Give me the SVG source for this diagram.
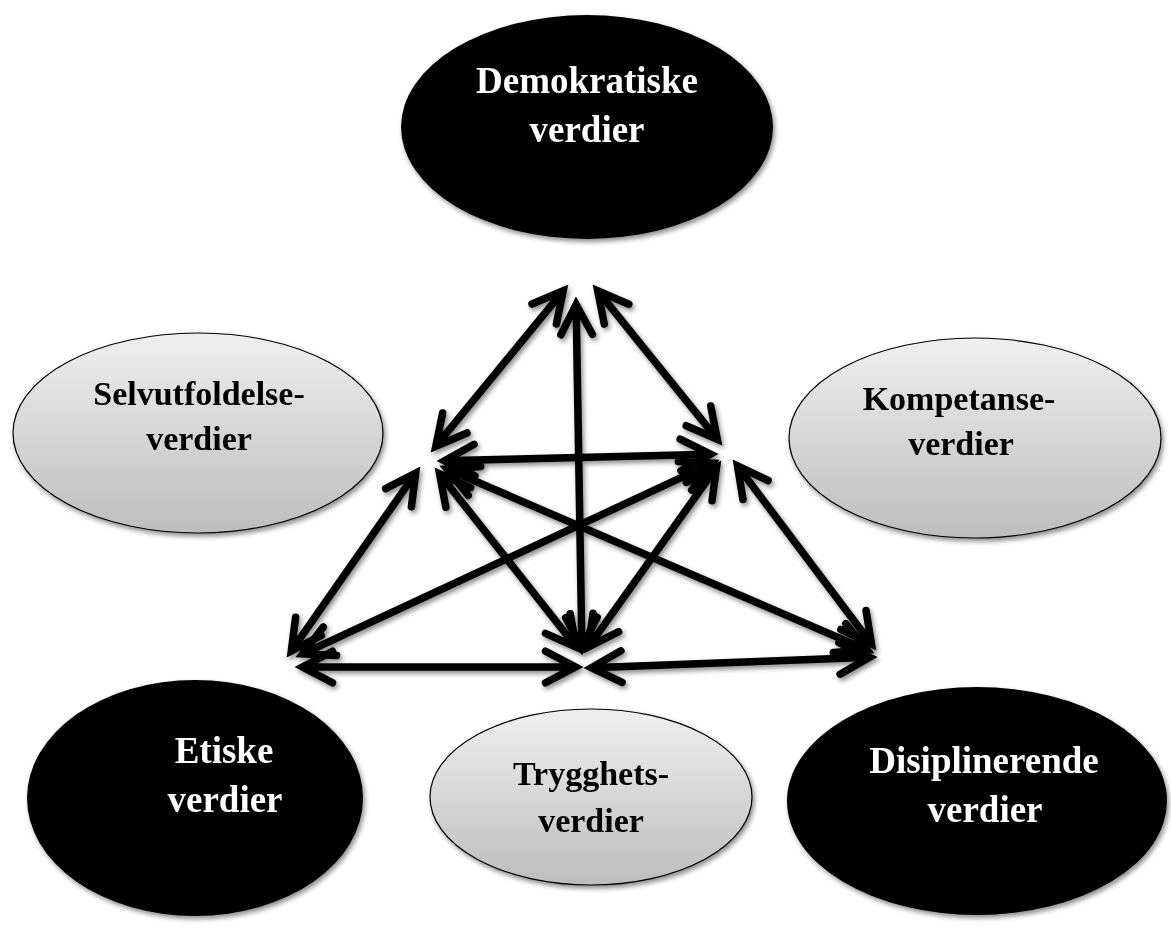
<svg xmlns="http://www.w3.org/2000/svg" width="1171" height="936" viewBox="0 0 1171 936">
<style>
.lbl{font-family:"Liberation Serif","Times New Roman",serif;font-weight:bold;text-anchor:middle}
.w{fill:#fff;font-size:37px}
.k{fill:#000;font-size:34px}
.dark{fill:#000}
.light{fill:url(#g);stroke:#000;stroke-width:1.2}
.arr{stroke:#000;stroke-width:7.5;fill:none;marker-start:url(#ah);marker-end:url(#ah)}
</style>
<defs>
<linearGradient id="g" x1="0" y1="0" x2="0" y2="1">
<stop offset="0" stop-color="#efefef"/>
<stop offset="1" stop-color="#bdbdbd"/>
</linearGradient>
<filter id="sh" x="-20%" y="-20%" width="140%" height="140%">
<feDropShadow dx="2" dy="3" stdDeviation="2.5" flood-color="#000" flood-opacity="0.45"/>
</filter>
<marker id="ah" viewBox="-6 -3 7.5 6" refX="0" refY="0" markerWidth="7.5" markerHeight="6" orient="auto-start-reverse" markerUnits="strokeWidth" overflow="visible">
<path d="M-4,-2.1 L0,0 L-4,2.1" fill="none" stroke="#000" stroke-width="1" stroke-linejoin="miter" stroke-miterlimit="4" stroke-linecap="round"/>
</marker>
</defs>
<rect width="1171" height="936" fill="#fff"/>

<g id="demokratiske" filter="url(#sh)">
<ellipse class="dark" cx="587" cy="127" rx="186" ry="112"/>
<text class="lbl w" x="587" y="93">Demokratiske</text>
<text class="lbl w" x="587" y="142">verdier</text>
</g>

<g id="selvutfoldelse" filter="url(#sh)">
<ellipse class="light" cx="198" cy="433" rx="185" ry="100"/>
<text class="lbl k" x="199" y="405">Selvutfoldelse-</text>
<text class="lbl k" x="199" y="450">verdier</text>
</g>

<g id="kompetanse" filter="url(#sh)">
<ellipse class="light" cx="975" cy="438" rx="186" ry="100"/>
<text class="lbl k" x="959" y="410">Kompetanse-</text>
<text class="lbl k" x="961" y="455">verdier</text>
</g>

<g id="etiske" filter="url(#sh)">
<ellipse class="dark" cx="195" cy="798" rx="168" ry="118"/>
<text class="lbl w" x="224" y="763">Etiske</text>
<text class="lbl w" x="225" y="812">verdier</text>
</g>

<g id="trygghets" filter="url(#sh)">
<ellipse class="light" cx="591" cy="797" rx="161" ry="88"/>
<text class="lbl k" x="591" y="785">Trygghets-</text>
<text class="lbl k" x="591" y="832">verdier</text>
</g>

<g id="disiplinerende" filter="url(#sh)">
<ellipse class="dark" cx="977" cy="801" rx="190" ry="114"/>
<text class="lbl w" x="984" y="773">Disiplinerende</text>
<text class="lbl w" x="985" y="822">verdier</text>
</g>

<g id="connectors" filter="url(#sh)">
<line class="arr" x1="563.2" y1="290.8" x2="435.8" y2="446.2"/>
<line class="arr" x1="597.7" y1="290.8" x2="717.3" y2="439.2"/>
<line class="arr" x1="576.1" y1="304.5" x2="581.9" y2="647.5"/>
<line class="arr" x1="444.5" y1="460.8" x2="710.5" y2="454.2"/>
<line class="arr" x1="415.7" y1="473.1" x2="291.3" y2="650.9"/>
<line class="arr" x1="439.6" y1="473.9" x2="576.4" y2="647.1"/>
<line class="arr" x1="446.9" y1="469.0" x2="867.1" y2="650.0"/>
<line class="arr" x1="712.2" y1="463.2" x2="302.8" y2="653.8"/>
<line class="arr" x1="716.6" y1="467.1" x2="588.4" y2="646.9"/>
<line class="arr" x1="737.5" y1="466.0" x2="871.5" y2="644.0"/>
<line class="arr" x1="302.5" y1="667" x2="575.5" y2="667"/>
<line class="arr" x1="591.5" y1="667.7" x2="869.5" y2="657.3"/>
</g>
</svg>
